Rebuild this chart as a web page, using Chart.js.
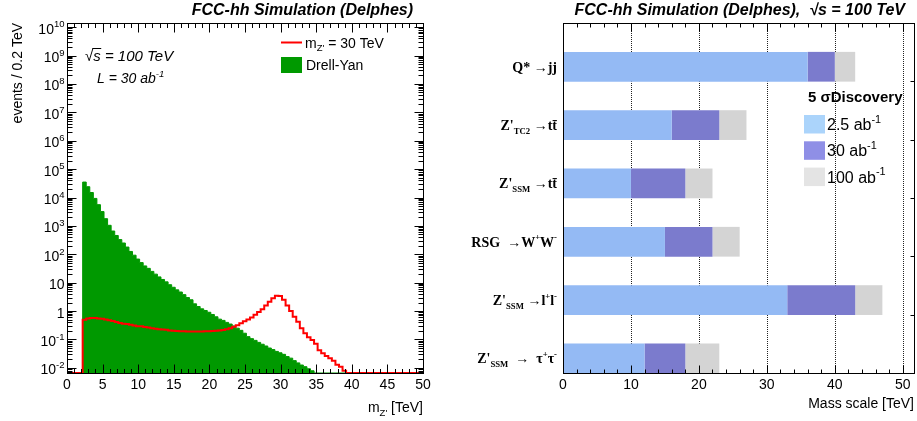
<!DOCTYPE html>
<html>
<head>
<meta charset="utf-8">
<script src="https://cdn.jsdelivr.net/npm/chart.js@4.4.1/dist/chart.umd.min.js"></script>
<style>
  body { margin: 0; background: #fff; }
  canvas { position: absolute; top: 0; }
  #left { left: 0; }
  #right { left: 460px; }
</style>
</head>
<body>
<canvas id="left" width="460" height="421"></canvas>
<canvas id="right" width="457" height="421"></canvas>
<script>
// LEFT PANEL: events / 0.2 TeV vs m_Z'

const binStart = 2.2
const binWidth = 0.5

const drellYan = [
  35000, 24000, 15000, 9300, 5600, 3200, 1800, 1050, 660, 460,
  330, 250, 180, 126, 93, 68, 51, 39, 32, 25,
  20, 16, 13, 10.7, 8.5, 6.9, 5.6, 4.7, 3.8, 3.0,
  2.5, 1.8, 1.45, 1.2, 1.05, 0.91, 0.76, 0.63, 0.52, 0.47,
  0.40, 0.35, 0.30, 0.25, 0.21, 0.166, 0.126, 0.107, 0.093, 0.079,
  0.068, 0.059, 0.050, 0.044, 0.038, 0.034, 0.030, 0.025, 0.022, 0.018,
  0.015, 0.0126, 0.011, 0.0093, 0.0079
]

const zprime30 = [
  0.50, 0.55, 0.575, 0.575, 0.55, 0.54, 0.51, 0.48, 0.45, 0.41,
  0.38, 0.36, 0.35, 0.33, 0.31, 0.295, 0.29, 0.275, 0.263, 0.25,
  0.24, 0.23, 0.224, 0.219, 0.209, 0.204, 0.2, 0.195, 0.195, 0.19,
  0.19, 0.19, 0.19, 0.19, 0.195, 0.195, 0.2, 0.204, 0.209, 0.214,
  0.23, 0.25, 0.28, 0.32, 0.37, 0.44, 0.51, 0.60, 0.74, 0.93,
  1.17, 1.58, 2.14, 2.82, 3.47, 3.39, 2.51, 1.58, 1.0, 0.63,
  0.42, 0.25, 0.166, 0.12, 0.095, 0.071, 0.042, 0.033, 0.026, 0.022,
  0.018, 0.013, 0.011, 0.0079
]

const yMin = 0.0066
const yMax = 1.4e10
const yTickValues = [1e-2, 1e-1, 1, 10, 1e2, 1e3, 1e4, 1e5, 1e6, 1e7, 1e8, 1e9, 1e10]
const yTickLabels = ['10^{-2}', '10^{-1}', '1', '10', '10^{2}', '10^{3}', '10^{4}', '10^{5}', '10^{6}', '10^{7}', '10^{8}', '10^{9}', '10^{10}']
const mTicks = [0, 5, 10, 15, 20, 25, 30, 35, 40, 45, 50]

// RIGHT PANEL: 5 sigma discovery reach

const processes = [
  'Q* \u2192jj',
  "Z'_{TC2} \u2192tt\u0304",
  "Z'_{SSM} \u2192tt\u0304",
  'RSG  \u2192W^{+}W^{-}',
  "Z'_{SSM} \u2192l^{+}l^{-}",
  "Z'_{SSM}  \u2192  \u03c4^{+}\u03c4^{-}"
]
const reach2p5 = [36, 16, 10, 15, 33, 12]
const reach30 = [40, 23, 18, 22, 43, 18]
const reach100 = [43, 27, 22, 26, 47, 23]
const lumiLabels = ['2.5 ab^{-1}', '30 ab^{-1}', '100 ab^{-1}']
const massTicks = [0, 10, 20, 30, 40, 50]

const SANS = '"Liberation Sans", Arial, Helvetica, sans-serif'
const SERIF = '"Liberation Serif", "Times New Roman", serif'

// tiny ROOT-like rich text: a_{sub} and a^{sup}
function parseRich (str) {
  const parts = []
  const re = /([_^])\{([^}]*)\}/g
  let last = 0
  let m
  while ((m = re.exec(str))) {
    if (m.index > last) parts.push({ t: str.slice(last, m.index), k: 'n' })
    parts.push({ t: m[2], k: m[1] === '_' ? 'sub' : 'sup' })
    last = re.lastIndex
  }
  if (last < str.length) parts.push({ t: str.slice(last), k: 'n' })
  return parts
}

function drawRich (ctx, str, x, y, opt = {}) {
  const size = opt.size || 14
  const family = opt.family || SANS
  const weight = opt.weight || 'normal'
  const style = opt.style || 'normal'
  const align = opt.align || 'left'
  const scale = opt.scriptScale || 0.68
  const fontFor = (k) => `${style} ${weight} ${k === 'n' ? size : (size * scale).toFixed(1)}px ${family}`
  const parts = parseRich(str)
  let width = 0
  parts.forEach((p) => {
    ctx.font = fontFor(p.k)
    p.w = ctx.measureText(p.t).width
    width += p.w
  })
  let cx = x
  if (align === 'right') cx = x - width
  if (align === 'center') cx = x - width / 2
  ctx.save()
  ctx.fillStyle = opt.color || '#000'
  ctx.textAlign = 'left'
  ctx.textBaseline = 'alphabetic'
  parts.forEach((p) => {
    ctx.font = fontFor(p.k)
    let dy = 0
    if (p.k === 'sup') dy = -size * 0.45
    if (p.k === 'sub') dy = size * 0.28
    ctx.fillText(p.t, cx, y + dy)
    cx += p.w
  })
  ctx.restore()
  return width
}

function seg (ctx, x1, y1, x2, y2) {
  ctx.beginPath()
  ctx.moveTo(x1, y1)
  ctx.lineTo(x2, y2)
  ctx.stroke()
}

const crisp = (v) => Math.round(v) + 0.5

function toSteps (values) {
  const pts = [{ x: 0, y: yMin }]
  values.forEach((v, i) => pts.push({ x: binStart + i * binWidth, y: v }))
  pts.push({ x: binStart + values.length * binWidth, y: yMin })
  pts.push({ x: 50, y: yMin })
  return pts
}

const leftDecor = {
  id: 'leftDecor',
  afterDatasetsDraw (chart) {
    const { ctx, chartArea: a, scales: { x, y } } = chart
    ctx.save()
    ctx.strokeStyle = '#000'
    ctx.lineWidth = 1
    const L = crisp(a.left)
    const R = crisp(a.right)
    const T = crisp(a.top)
    const B = crisp(a.bottom)
    ctx.strokeRect(L, T, R - L, B - T)

    // x ticks, minor each TeV
    for (let v = 0; v <= 50; v++) {
      const px = crisp(x.getPixelForValue(v))
      const len = v % 5 === 0 ? 9 : 4.5
      seg(ctx, px, B, px, B - len)
      seg(ctx, px, T, px, T + len)
    }
    // y ticks, log minor
    const decades = [1e-3].concat(yTickValues)
    decades.forEach((dec) => {
      for (let m = 1; m < 10; m++) {
        const v = dec * m
        if (v < yMin || v > yMax) continue
        const py = crisp(y.getPixelForValue(v))
        const len = m === 1 ? 9 : 5
        seg(ctx, L, py, L + len, py)
        seg(ctx, R, py, R - len, py)
      }
    })
    ctx.restore()

    // labels
    mTicks.forEach((v) => {
      drawRich(ctx, String(v), x.getPixelForValue(v), 388.5, { size: 14, align: 'center' })
    })
    yTickLabels.forEach((lab, i) => {
      drawRich(ctx, lab, 64.5, y.getPixelForValue(yTickValues[i]) + 6.5, { size: 14, align: 'right' })
    })
    drawRich(ctx, "m_{Z'} [TeV]", 423, 412, { size: 14, align: 'right' })

    ctx.save()
    ctx.translate(22, 23)
    ctx.rotate(-Math.PI / 2)
    drawRich(ctx, 'events / 0.2 TeV', 0, 0, { size: 14, align: 'right' })
    ctx.restore()

    drawRich(ctx, 'FCC-hh Simulation (Delphes)', 413, 14.5, { size: 16, weight: 'bold', style: 'italic', align: 'right' })
    const rootW = drawRich(ctx, '\u221a', 85, 60.5, { size: 15, style: 'italic' })
    drawRich(ctx, 's = 100 TeV', 85 + rootW, 60.5, { size: 15, style: 'italic' })
    ctx.save()
    ctx.lineWidth = 1
    seg(ctx, 85 + rootW - 1, 48.5, 85 + rootW + 8, 48.5)
    ctx.restore()
    drawRich(ctx, 'L = 30 ab^{-1}', 97, 83, { size: 14, style: 'italic' })

    // legend
    const [sig, bkg] = chart.data.datasets
    ctx.save()
    ctx.strokeStyle = sig.borderColor
    ctx.lineWidth = 2
    seg(ctx, 281, 42.5, 302, 42.5)
    ctx.fillStyle = bkg.backgroundColor
    ctx.fillRect(281, 57, 21, 16)
    ctx.restore()
    drawRich(ctx, sig.label, 305, 47.5, { size: 14 })
    drawRich(ctx, bkg.label, 306, 69.5, { size: 14 })
  }
}

new Chart(document.getElementById('left'), {
  type: 'line',
  data: {
    datasets: [
      {
        label: "m_{Z'} = 30 TeV",
        data: toSteps(zprime30),
        borderColor: '#ff0000',
        borderWidth: 2,
        stepped: true,
        pointRadius: 0,
        fill: false
      },
      {
        label: 'Drell-Yan',
        data: toSteps(drellYan),
        borderColor: '#009900',
        backgroundColor: '#009900',
        borderWidth: 1,
        stepped: true,
        pointRadius: 0,
        fill: { value: yMin }
      }
    ]
  },
  options: {
    responsive: false,
    animation: false,
    layout: { padding: { left: 67, top: 23, right: 37, bottom: 48 } },
    plugins: { legend: { display: false }, tooltip: { enabled: false } },
    scales: {
      x: { type: 'linear', min: 0, max: 50, display: false },
      y: { type: 'logarithmic', min: yMin, max: yMax, display: false }
    }
  },
  plugins: [leftDecor]
})

// RIGHT CHART

const legendColors = ['#abd4fb', '#8f8fe6', '#e4e4e4']

const rightDecor = {
  id: 'rightDecor',
  beforeDatasetsDraw (chart) {
    const { ctx, chartArea: a, scales: { x } } = chart
    ctx.save()
    ctx.strokeStyle = '#222'
    ctx.lineWidth = 1
    ctx.setLineDash([1, 1])
    massTicks.slice(1).forEach((v) => {
      const px = crisp(x.getPixelForValue(v))
      seg(ctx, px, a.top, px, a.bottom)
    })
    ctx.restore()
  },
  afterDatasetsDraw (chart) {
    const { ctx, chartArea: a, scales: { x, y } } = chart
    ctx.save()
    ctx.strokeStyle = '#000'
    ctx.lineWidth = 1
    const L = crisp(a.left)
    const R = crisp(a.right) - 1
    const T = crisp(a.top)
    const B = crisp(a.bottom)
    ctx.strokeRect(L, T, R - L, B - T)
    for (let v = 0; v <= 50; v += 2) {
      const px = crisp(x.getPixelForValue(v))
      const len = v % 10 === 0 ? 8 : 4
      seg(ctx, px, B, px, B - len)
      seg(ctx, px, T, px, T + len)
    }
    for (let i = 0; i < processes.length - 1; i++) {
      const py = crisp(y.getPixelForValue(i + 0.25))
      seg(ctx, R, py, R - 4, py)
    }
    ctx.restore()

    massTicks.forEach((v) => {
      drawRich(ctx, String(v), x.getPixelForValue(v), 388.5, { size: 14, align: 'center' })
    })
    drawRich(ctx, 'Mass scale [TeV]', 454, 408, { size: 14, align: 'right' })

    processes.forEach((p, i) => {
      drawRich(ctx, p, 97, y.getPixelForValue(i) + 5, { size: 14, family: SERIF, weight: 'bold', scriptScale: 0.62, align: 'right' })
    })

    drawRich(ctx, 'FCC-hh Simulation (Delphes),  \u221as = 100 TeV', 445, 15, { size: 16, weight: 'bold', style: 'italic', align: 'right' })

    // legend
    drawRich(ctx, '5 \u03c3Discovery', 348, 102, { size: 15, weight: 'bold' })
    lumiLabels.forEach((lab, i) => {
      const top = 115 + i * 26.3
      ctx.fillStyle = legendColors[i]
      ctx.fillRect(344, top, 21, 18.5)
      drawRich(ctx, lab, 367, top + 15, { size: 16 })
    })
  }
}

new Chart(document.getElementById('right'), {
  type: 'bar',
  data: {
    datasets: [
      {
        label: lumiLabels[0],
        data: processes.map((p, i) => ({ y: i, x: [0, reach2p5[i]] })),
        backgroundColor: '#94baf4'
      },
      {
        label: lumiLabels[1],
        data: processes.map((p, i) => ({ y: i, x: [reach2p5[i], reach30[i]] })),
        backgroundColor: '#7b7bcd'
      },
      {
        label: lumiLabels[2],
        data: processes.map((p, i) => ({ y: i, x: [reach30[i], reach100[i]] })),
        backgroundColor: '#d4d4d4'
      }
    ]
  },
  options: {
    indexAxis: 'y',
    responsive: false,
    animation: false,
    layout: { padding: { left: 103, top: 23, right: 2, bottom: 48 } },
    plugins: { legend: { display: false }, tooltip: { enabled: false } },
    datasets: { bar: { grouped: false, barPercentage: 0.51, categoryPercentage: 1, borderWidth: 0 } },
    scales: {
      x: { type: 'linear', min: 0, max: 51.8, display: false },
      y: {
        type: 'linear',
        min: -0.75,
        max: 5.25,
        offset: false,
        reverse: true,
        display: false,
        afterBuildTicks: (scale) => { scale.ticks = processes.map((p, i) => ({ value: i })) }
      }
    }
  },
  plugins: [rightDecor]
})
</script>
</body>
</html>
